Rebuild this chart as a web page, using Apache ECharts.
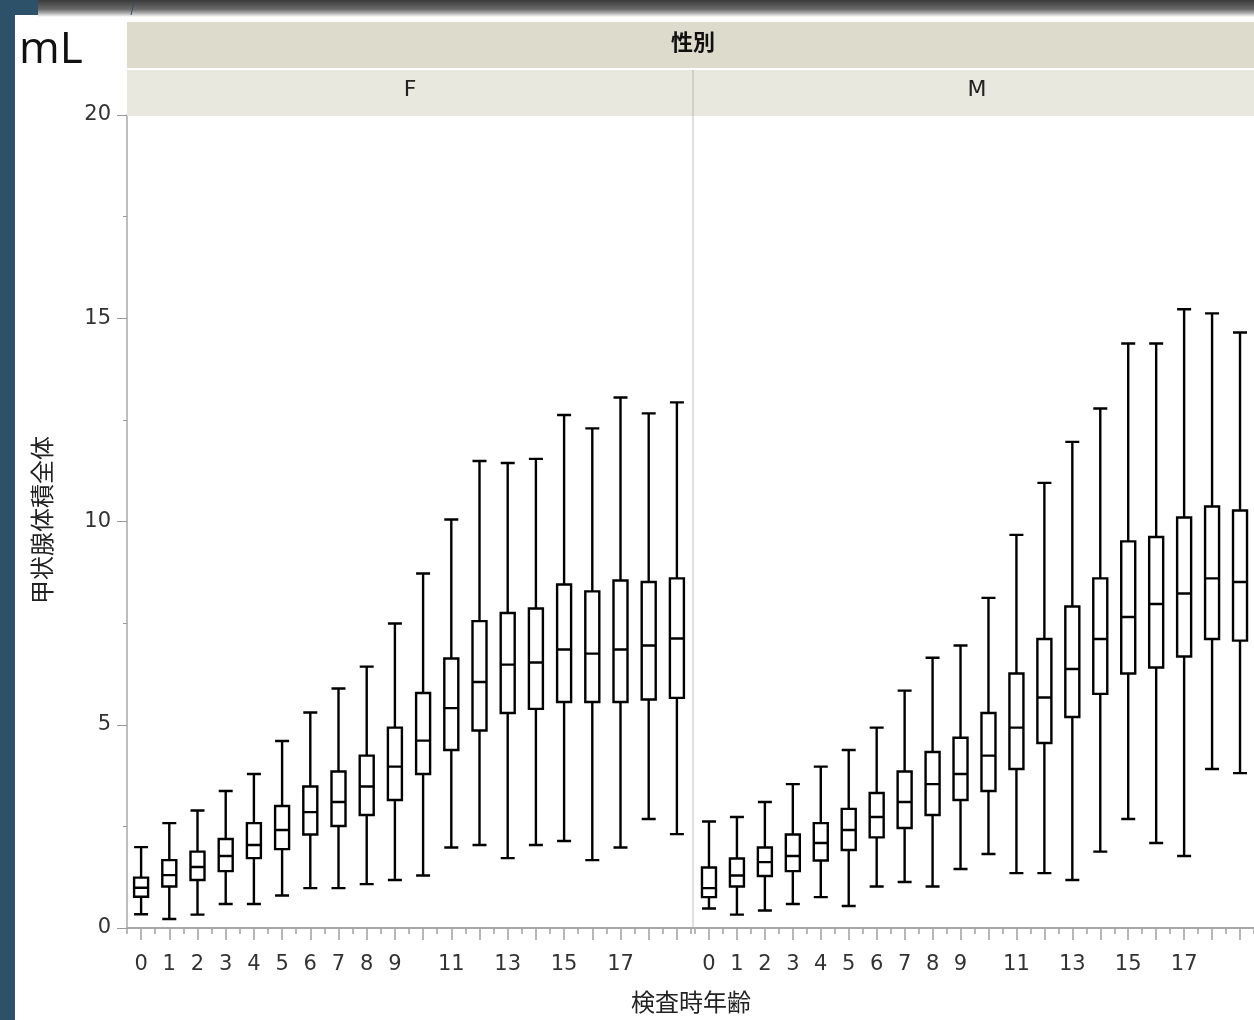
<!DOCTYPE html>
<html>
<head>
<meta charset="utf-8">
<style>
  html, body { margin: 0; padding: 0; background: #fff; }
  #chart { width: 1254px; height: 1020px; }
</style>
<script src="https://cdn.jsdelivr.net/npm/echarts@6/dist/echarts.min.js"></script>
</head>
<body>
<div id="chart"></div>
<script>
// Categories: age at examination
const ages = ['0','1','2','3','4','5','6','7','8','9','10','11','12','13','14','15','16','17','18','19'];
const yTicks = [0, 5, 10, 15, 20];
const panelLabels = ['F', 'M'];

// Box values: [lower whisker, Q1, median, Q3, upper whisker] (mL)
const femaleBoxes = [
  [0.34, 0.77, 0.99, 1.24, 1.99],
  [0.22, 1.02, 1.30, 1.67, 2.58],
  [0.33, 1.18, 1.50, 1.88, 2.89],
  [0.59, 1.40, 1.77, 2.19, 3.37],
  [0.59, 1.72, 2.04, 2.58, 3.79],
  [0.80, 1.94, 2.41, 3.00, 4.60],
  [0.98, 2.30, 2.85, 3.48, 5.30],
  [0.98, 2.51, 3.10, 3.85, 5.89],
  [1.08, 2.78, 3.48, 4.24, 6.43],
  [1.18, 3.15, 3.97, 4.93, 7.49],
  [1.29, 3.79, 4.61, 5.78, 8.72],
  [1.98, 4.38, 5.41, 6.63, 10.05],
  [2.04, 4.86, 6.05, 7.55, 11.49],
  [1.72, 5.29, 6.48, 7.75, 11.44],
  [2.04, 5.39, 6.53, 7.86, 11.54],
  [2.14, 5.56, 6.85, 8.45, 12.62],
  [1.67, 5.56, 6.75, 8.28, 12.29],
  [1.98, 5.56, 6.85, 8.55, 13.05],
  [2.68, 5.62, 6.95, 8.51, 12.66],
  [2.31, 5.66, 7.12, 8.60, 12.93]
];
const maleBoxes = [
  [0.48, 0.76, 0.98, 1.49, 2.62],
  [0.33, 1.02, 1.29, 1.71, 2.73],
  [0.43, 1.28, 1.62, 1.98, 3.10],
  [0.59, 1.40, 1.77, 2.30, 3.54],
  [0.76, 1.66, 2.09, 2.58, 3.97],
  [0.54, 1.92, 2.41, 2.93, 4.38],
  [1.02, 2.23, 2.73, 3.32, 4.93],
  [1.13, 2.46, 3.10, 3.85, 5.84],
  [1.02, 2.78, 3.54, 4.33, 6.65],
  [1.45, 3.15, 3.79, 4.68, 6.95],
  [1.82, 3.37, 4.24, 5.29, 8.12],
  [1.35, 3.91, 4.93, 6.26, 9.67],
  [1.35, 4.55, 5.67, 7.11, 10.95],
  [1.18, 5.19, 6.37, 7.91, 11.96],
  [1.88, 5.76, 7.11, 8.60, 12.78],
  [2.68, 6.26, 7.65, 9.51, 14.38],
  [2.09, 6.41, 7.97, 9.62, 14.38],
  [1.77, 6.68, 8.23, 10.10, 15.22],
  [3.91, 7.11, 8.60, 10.37, 15.12],
  [3.81, 7.07, 8.51, 10.27, 14.65]
];

const chart = echarts.init(document.getElementById('chart'), null, { renderer: 'canvas' });

const GRID_TOP = 115, GRID_H = 813, PANEL_W = 564, LEFT = 127, LEFT2 = 695, SEP = 693;
const labelShow = (i) => i <= 9 || (i % 2 === 1 && i < 18);
const tickFont = 'DejaVu Sans';

function xMain(g) {
  return {
    type: 'category', gridIndex: g, data: ages, boundaryGap: true, position: 'bottom',
    axisLine: { show: true, lineStyle: { color: '#a8a8a8', width: 2 } },
    axisTick: { show: true, alignWithLabel: true, interval: 0, length: 12, lineStyle: { color: '#a0a0a0', width: 1.5 } },
    axisLabel: { interval: (i) => labelShow(i), fontSize: 21, color: '#333', margin: 26, fontFamily: tickFont },
    splitLine: { show: false }
  };
}
function xMinor(g) {
  return {
    type: 'category', gridIndex: g, data: ages, boundaryGap: true, position: 'bottom',
    axisLine: { show: false },
    axisTick: { show: true, interval: 0, length: 6, lineStyle: { color: '#a0a0a0', width: 1.5 } },
    axisLabel: { show: false },
    splitLine: { show: false }
  };
}

const boxStyle = { color: '#ffffff', borderColor: '#000000', borderWidth: 2.4 };

const option = {
  backgroundColor: '#ffffff',
  animation: false,
  grid: [
    { left: LEFT, top: GRID_TOP, width: PANEL_W, height: GRID_H },
    { left: LEFT2, top: GRID_TOP, width: PANEL_W, height: GRID_H }
  ],
  xAxis: [xMain(0), xMinor(0), xMain(1), xMinor(1)],
  yAxis: [
    {
      type: 'value', gridIndex: 0, min: yTicks[0], max: yTicks[yTicks.length - 1], interval: 5,
      axisLine: { show: true, lineStyle: { color: '#a8a8a8', width: 1.5 } },
      axisTick: { show: true, length: 10, lineStyle: { color: '#999', width: 1 } },
      minorTick: { show: true, splitNumber: 2, length: 4, lineStyle: { color: '#999', width: 1 } },
      axisLabel: { fontSize: 21, color: '#333', margin: 16, fontFamily: tickFont },
      splitLine: { show: false }
    },
    {
      type: 'value', gridIndex: 1, min: yTicks[0], max: yTicks[yTicks.length - 1], interval: 5,
      axisLine: { show: false },
      axisTick: { show: false }, axisLabel: { show: false }, splitLine: { show: false }
    }
  ],
  series: [
    { type: 'boxplot', xAxisIndex: 0, yAxisIndex: 0, data: femaleBoxes, boxWidth: [14, 14], itemStyle: boxStyle, silent: true },
    { type: 'boxplot', xAxisIndex: 2, yAxisIndex: 1, data: maleBoxes, boxWidth: [14, 14], itemStyle: boxStyle, silent: true }
  ],
  graphic: [
    // window chrome decorations
    { type: 'rect', shape: { x: 0, y: 0, width: 15, height: 1020 }, style: { fill: '#2d5169' }, z: 10 },
    { type: 'rect', shape: { x: 0, y: 0, width: 38, height: 15 }, style: { fill: '#2d5169' }, z: 10 },
    { type: 'rect', shape: { x: 38, y: 0, width: 1216, height: 17 },
      style: { fill: new echarts.graphic.LinearGradient(0, 0, 0, 1, [
        { offset: 0, color: '#3a3a3a' }, { offset: 0.55, color: '#6b6b6b' }, { offset: 0.8, color: '#b8b8b8' }, { offset: 1, color: '#ffffff' }
      ]) }, z: 10 },
    { type: 'line', shape: { x1: 134, y1: 2, x2: 131, y2: 15 }, style: { stroke: '#2d5169', lineWidth: 1 }, z: 11 },
    // header strips
    { type: 'rect', shape: { x: LEFT, y: 22, width: 1254 - LEFT, height: 46 }, style: { fill: '#dcdbcc' }, z: 5 },
    { type: 'rect', shape: { x: LEFT, y: 70, width: 1254 - LEFT, height: 46 }, style: { fill: '#e8e8df' }, z: 5 },
    { type: 'line', shape: { x1: SEP, y1: 70, x2: SEP, y2: 116 }, style: { stroke: '#c9c9bf', lineWidth: 1.5 }, z: 6 },
    { type: 'line', shape: { x1: SEP, y1: 116, x2: SEP, y2: 928 }, style: { stroke: '#d4d4d4', lineWidth: 1.5 }, z: 1 },
    { type: 'line', shape: { x1: LEFT + PANEL_W - 1, y1: GRID_TOP + GRID_H, x2: LEFT2 + 1, y2: GRID_TOP + GRID_H }, style: { stroke: '#a8a8a8', lineWidth: 2 }, z: 3 },
    { type: 'text', x: SEP, y: 42, style: { text: '性別', fontSize: 22, fontWeight: 'bold', fill: '#111', align: 'center', verticalAlign: 'middle', fontFamily: 'Noto Sans CJK JP' }, z: 7 },
    { type: 'text', x: LEFT + PANEL_W / 2 + 1, y: 90, style: { text: panelLabels[0], fontSize: 22, fill: '#222', align: 'center', verticalAlign: 'middle', fontFamily: tickFont }, z: 7 },
    { type: 'text', x: LEFT2 + PANEL_W / 2, y: 90, style: { text: panelLabels[1], fontSize: 22, fill: '#222', align: 'center', verticalAlign: 'middle', fontFamily: tickFont }, z: 7 },
    // unit label
    { type: 'text', x: 19, y: 50, style: { text: 'mL', fontSize: 44, fill: '#111', align: 'left', verticalAlign: 'middle', fontFamily: 'Open Sans' }, z: 7 },
    // axis titles
    { type: 'text', x: 42, y: 520, rotation: Math.PI / 2, style: { text: '甲状腺体積全体', fontSize: 24, fill: '#222', align: 'center', verticalAlign: 'middle', fontFamily: 'Noto Sans CJK JP' }, z: 7 },
    { type: 'text', x: 691, y: 1002, style: { text: '検査時年齢', fontSize: 24, fill: '#222', align: 'center', verticalAlign: 'middle', fontFamily: 'Noto Sans CJK JP' }, z: 7 }
  ]
};

chart.setOption(option);
</script>
</body>
</html>
